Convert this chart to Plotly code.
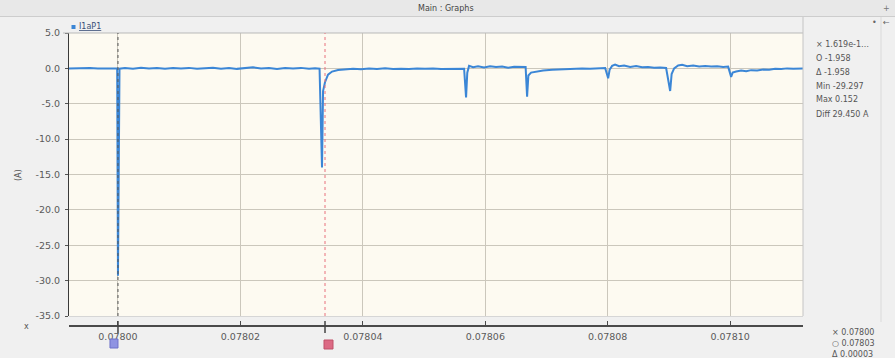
import numpy as np
import plotly.graph_objects as go

# ---- data -----------------------------------------------------------------
time_s = [
    0.07799199, 0.07799297, 0.07799412, 0.07799542, 0.07799673, 0.07799804,
    0.07799918, 0.07799987, 0.07800000, 0.07800013, 0.07800025,
    0.07800114, 0.07800245, 0.07800376, 0.07800507, 0.07800637, 0.07800768,
    0.07800899, 0.07801029, 0.07801160, 0.07801291, 0.07801422, 0.07801552,
    0.07801683, 0.07801814, 0.07801944, 0.07802075, 0.07802206, 0.07802337,
    0.07802467, 0.07802598, 0.07802729, 0.07802860, 0.07802990, 0.07803121,
    0.07803219, 0.07803293, 0.07803333, 0.07803350, 0.07803382, 0.07803431,
    0.07803497, 0.07803595, 0.07803709, 0.07803840, 0.07803971,
    0.07804101, 0.07804232, 0.07804363, 0.07804494, 0.07804624, 0.07804755,
    0.07804886, 0.07805016, 0.07805147, 0.07805278, 0.07805409, 0.07805539,
    0.07805654, 0.07805686, 0.07805706, 0.07805735, 0.07805801, 0.07805882,
    0.07805980, 0.07806078, 0.07806176, 0.07806275, 0.07806373, 0.07806471,
    0.07806569, 0.07806659, 0.07806683, 0.07806704, 0.07806748, 0.07806830,
    0.07806945, 0.07807092, 0.07807255, 0.07807418, 0.07807582, 0.07807712,
    0.07807843, 0.07807958, 0.07808007, 0.07808031, 0.07808072, 0.07808121,
    0.07808186, 0.07808268, 0.07808366, 0.07808464, 0.07808562, 0.07808660,
    0.07808758, 0.07808856, 0.07808954, 0.07809020, 0.07809044, 0.07809085,
    0.07809150, 0.07809216, 0.07809297, 0.07809396, 0.07809494, 0.07809592,
    0.07809690, 0.07809788, 0.07809886, 0.07809967, 0.07810016, 0.07810041,
    0.07810098, 0.07810180, 0.07810262, 0.07810343, 0.07810441, 0.07810539,
    0.07810637, 0.07810735, 0.07810833, 0.07810931, 0.07811030, 0.07811128,
    0.07811193,
]
current_a = [
    0.00, 0.03, -0.02, 0.04, 0.00, -0.03,
    0.02, 0.00, -29.2974, -0.60, -0.05,
    0.05, -0.04, 0.08, -0.02, 0.06, -0.06,
    0.04, -0.03, 0.07, -0.05, 0.02, 0.09,
    -0.04, 0.05, -0.07, 0.03, 0.1524, -0.02,
    0.06, -0.08, 0.04, -0.03, 0.07, -0.05,
    0.03, -0.05, -14.0, -3.2, -1.958, -0.90,
    -0.45, -0.22, -0.10, -0.05, -0.12,
    -0.03, -0.08, 0.02, -0.10, -0.04, -0.09,
    0.00, -0.07, -0.02, -0.10, -0.05, -0.08,
    -0.06, -4.10, -0.60, 0.35, 0.15, 0.28,
    0.12, 0.30, 0.18, 0.25, 0.10, 0.22,
    0.15, 0.18, -4.00, -1.00, -0.60, -0.45,
    -0.30, -0.20, -0.12, -0.08, -0.02, -0.05,
    0.02, 0.05, -1.40, -0.20, 0.35, 0.55,
    0.30, 0.40, 0.20, 0.32, 0.15, 0.20,
    0.08, 0.12, 0.05, -3.20, -0.80, 0.00,
    0.40, 0.50, 0.30, 0.42, 0.28, 0.35,
    0.25, 0.30, 0.20, 0.25, -1.20, -0.60,
    -0.45, -0.30, -0.40, -0.25, -0.30, -0.15,
    -0.20, -0.05, -0.10, 0.00, -0.06, 0.02,
    -0.03,
]

x_ticks = [0.07800, 0.07802, 0.07804, 0.07806, 0.07808, 0.07810]
x_labels = ["0.07800", "0.07802", "0.07804", "0.07806", "0.07808", "0.07810"]
y_ticks = [5, 0, -5, -10, -15, -20, -25, -30, -35]
y_labels = [f"{v:.1f}" for v in y_ticks]
x_range = [0.0779920, 0.0781119]
y_range = [-35, 5]

series_name = "I1aP1"
cursor_a = 0.07800000
cursor_b = 0.07803382

# readouts between the two cursors
t = np.array(time_s)
c = np.array(current_a)
sel = (t >= cursor_a) & (t <= cursor_b)
c_min = c[sel].min()
c_max = c[sel].max()
c_at_b = float(np.interp(cursor_b, t, c))

# ---- geometry helpers (page pixels -> paper coords) ------------------------
W, H = 895, 358
ML, MR, MT, MB = 69, 92, 33, 32
PW, PH = W - ML - MR, H - MT - MB


def fx(px):
    return (px - ML) / PW


def fy(py):
    return (H - MB - py) / PH


FONT = "DejaVu Sans"
TXT = "#555555"

fig = go.Figure()
fig.add_trace(go.Scatter(
    x=time_s, y=current_a, mode="lines",
    line=dict(color="#3b86d6", width=2),
    showlegend=False, hoverinfo="x+y",
))
# carrier trace for the detached bottom time axis
fig.add_trace(go.Scatter(
    x=[x_range[0]], y=[0], xaxis="x2", yaxis="y", mode="markers",
    marker=dict(opacity=0), showlegend=False, hoverinfo="skip",
))

shapes = []
# window title band
shapes.append(dict(type="rect", xref="paper", yref="paper",
                   x0=fx(0), x1=fx(W), y0=fy(16), y1=fy(0),
                   fillcolor="#e8e8e8", line=dict(width=0), layer="below"))
shapes.append(dict(type="line", xref="paper", yref="paper",
                   x0=fx(0), x1=fx(W), y0=fy(16.5), y1=fy(16.5),
                   line=dict(color="#cdcdcd", width=1)))
# legend row border and plot frame
shapes.append(dict(type="line", xref="paper", yref="paper",
                   x0=fx(63), x1=fx(803), y0=fy(33), y1=fy(33),
                   line=dict(color="#b9b9b9", width=1)))
shapes.append(dict(type="line", xref="paper", yref="paper",
                   x0=fx(803), x1=fx(803), y0=fy(316), y1=fy(17),
                   line=dict(color="#c4c4c4", width=1)))
shapes.append(dict(type="line", xref="paper", yref="paper",
                   x0=fx(69), x1=fx(803), y0=fy(316.5), y1=fy(316.5),
                   line=dict(color="#d6d6d6", width=1)))
shapes.append(dict(type="line", xref="paper", yref="paper",
                   x0=fx(881), x1=fx(881), y0=fy(322), y1=fy(17),
                   line=dict(color="#dadada", width=1)))
# cursor lines
shapes.append(dict(type="line", xref="x", yref="y",
                   x0=cursor_a, x1=cursor_a, y0=y_range[0], y1=y_range[1],
                   line=dict(color="#555555", width=1, dash="dot")))
shapes.append(dict(type="line", xref="x", yref="y",
                   x0=cursor_b, x1=cursor_b, y0=y_range[0], y1=y_range[1],
                   line=dict(color="#e8707c", width=1, dash="dot")))
# cursor marks on the time axis
for cx in (cursor_a, cursor_b):
    shapes.append(dict(type="line", xref="x", yref="paper",
                       x0=cx, x1=cx, y0=fy(333), y1=fy(321),
                       line=dict(color="#444444", width=1.5)))
# cursor handles
shapes.append(dict(type="rect", xref="x", yref="paper", xsizemode="pixel",
                   xanchor=cursor_a, x0=-8, x1=0, y0=fy(348), y1=fy(339),
                   fillcolor="#8f93e2", line=dict(color="#6c70c8", width=1)))
shapes.append(dict(type="rect", xref="x", yref="paper", xsizemode="pixel",
                   xanchor=cursor_b, x0=-1, x1=8, y0=fy(349), y1=fy(340),
                   fillcolor="#dc6a84", line=dict(color="#c05068", width=1)))
# legend swatch
shapes.append(dict(type="rect", xref="paper", yref="paper",
                   x0=fx(71.5), x1=fx(75.5), y0=fy(29), y1=fy(25),
                   fillcolor="#3b86d6", line=dict(width=0)))


def note(px, py, text, size=8, anchor="left", color=TXT, **kw):
    return dict(xref="paper", yref="paper", x=fx(px), y=fy(py), text=text,
                showarrow=False, xanchor=anchor, yanchor="middle",
                font=dict(family=FONT, size=size, color=color), **kw)


annotations = [
    note(446, 8.5, "Main : Graphs", anchor="center", color="#444444"),
    note(77, 27, f"<u>{series_name}</u>", color="#3a4f78"),
    note(18, 175, "(A)", anchor="center", textangle=-90),
    note(26, 326, "x", anchor="center"),
    note(814, 44, "× 1.619e-1…"),
    note(814, 58, f"O {c_at_b:.3f}"),
    note(814, 72, f"Δ {c_at_b:.3f}"),
    note(814, 86, f"Min {c_min:.3f}"),
    note(814, 100, f"Max {c_max:.3f}"),
    note(814, 115, f"Diff {c_max - c_min:.3f} A"),
    note(830, 332, f"× {cursor_a:.5f}"),
    note(830, 343, f"○ {cursor_b:.5f}"),
    note(830, 354, f"Δ {cursor_b - cursor_a:.5f}"),
    note(886, 9, "+", anchor="center", color="#777777"),
    note(874, 22, "•", anchor="center", color="#666666"),
    note(886, 22, "←", anchor="center", color="#666666"),
]

tickfont = dict(family=FONT, size=9.5, color="#5a5a5a")

fig.update_layout(
    width=W, height=H,
    margin=dict(l=ML, r=MR, t=MT, b=MB, pad=0),
    paper_bgcolor="#f0f0f0",
    plot_bgcolor="#fdfaf1",
    showlegend=False,
    xaxis=dict(range=x_range, tickvals=x_ticks, showticklabels=False,
               showgrid=True, gridcolor="#cbc7bc", gridwidth=1,
               zeroline=False, showline=False, ticks=""),
    xaxis2=dict(overlaying="x", anchor="free", position=0, side="bottom",
                range=x_range, tickvals=x_ticks, ticktext=x_labels,
                showgrid=False, zeroline=False, showline=True,
                linecolor="#4a4a4a", linewidth=2, ticks="inside",
                ticklen=4, tickcolor="#4a4a4a", tickfont=tickfont,
                ticklabelstandoff=2),
    yaxis=dict(domain=[fy(316), 1], range=y_range, tickvals=y_ticks,
               ticktext=y_labels, showgrid=True, gridcolor="#cbc7bc",
               gridwidth=1, zeroline=False, showline=True,
               linecolor="#3a3a3a", linewidth=1, ticks="outside",
               ticklen=3, tickcolor="#555555", tickfont=tickfont,
               ticklabelstandoff=3),
    shapes=shapes,
    annotations=annotations,
)

fig.write_html("out.html")
